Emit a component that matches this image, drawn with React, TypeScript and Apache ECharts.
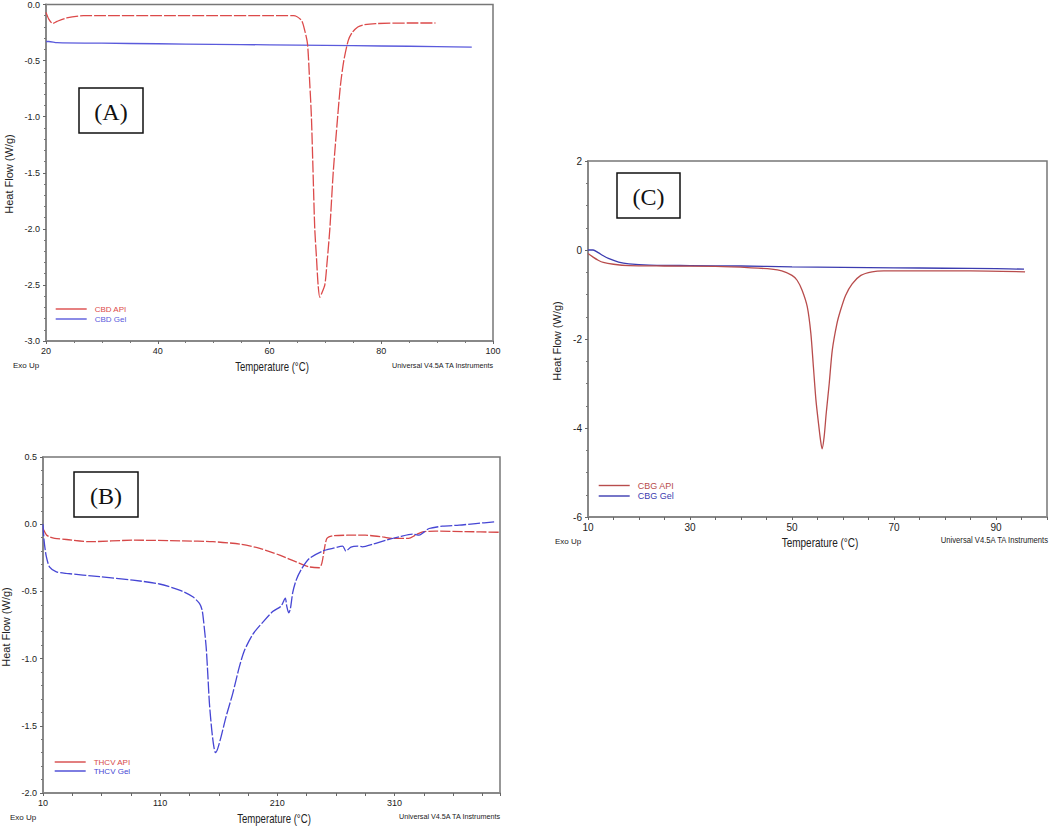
import React, { useEffect, useRef } from "react";
import * as echarts from "echarts";

// ---------- Panel A : CBD ----------
const cbdApiT = [20, 20.5, 21.2, 22, 23.7, 26.7, 30, 40, 50, 60, 64.3, 65.7, 66.3, 66.8, 67.2, 67.5, 67.8, 68.1, 68.4, 68.7, 69.0, 69.3, 69.9, 70.3, 70.8, 71.4, 72.2, 72.7, 73.3, 74.1, 74.8, 75.8, 77, 79, 85, 89.7];
const cbdApiHF = [-0.07, -0.13, -0.17, -0.15, -0.12, -0.1, -0.1, -0.1, -0.1, -0.1, -0.1, -0.14, -0.23, -0.35, -0.7, -1.0, -1.5, -2.0, -2.25, -2.5, -2.61, -2.58, -2.5, -2.3, -2.0, -1.5, -1.0, -0.72, -0.5, -0.32, -0.25, -0.2, -0.18, -0.17, -0.165, -0.165];
const cbdGelT = [20, 20.5, 22, 30, 40, 50, 60, 70, 80, 90, 96.2];
const cbdGelHF = [-0.33, -0.33, -0.34, -0.345, -0.35, -0.355, -0.36, -0.365, -0.37, -0.375, -0.38];

// ---------- Panel B : THCV ----------
const thcvApiT = [10, 11, 13, 15.7, 20, 30, 50, 87, 129, 155, 178, 195, 212, 226, 237, 245.8, 248, 250, 252, 254, 258, 270, 285, 300, 308, 322, 328, 334, 345, 370, 399];
const thcvApiHF = [-0.03, -0.05, -0.08, -0.094, -0.105, -0.114, -0.13, -0.119, -0.124, -0.13, -0.148, -0.18, -0.23, -0.28, -0.317, -0.324, -0.29, -0.19, -0.11, -0.094, -0.085, -0.082, -0.082, -0.095, -0.106, -0.106, -0.08, -0.057, -0.052, -0.055, -0.06];
const thcvGelT = [10, 10.9, 12.8, 15.7, 21.4, 29.9, 58.3, 86.7, 109.4, 126.5, 137.8, 143.5, 145.8, 146.9, 149.2, 150.6, 152, 154, 155.7, 157.2, 159.1, 162, 166.3, 171.9, 177.6, 181.9, 189, 197.5, 206, 213.1, 216.8, 218, 219.7, 221.1, 223.1, 225.9, 230.2, 237.3, 248.6, 257.2, 265.7, 268.5, 272.8, 278.5, 282.7, 291.3, 302.6, 314, 325.3, 331, 335.3, 339.5, 350.9, 365.1, 379.3, 395];
const thcvGelHF = [0, -0.12, -0.24, -0.32, -0.354, -0.366, -0.39, -0.416, -0.445, -0.49, -0.54, -0.59, -0.64, -0.71, -0.91, -1.11, -1.33, -1.53, -1.65, -1.7, -1.67, -1.58, -1.43, -1.26, -1.06, -0.94, -0.82, -0.73, -0.65, -0.61, -0.55, -0.61, -0.66, -0.63, -0.51, -0.42, -0.34, -0.255, -0.2, -0.18, -0.163, -0.2, -0.17, -0.163, -0.168, -0.149, -0.119, -0.094, -0.074, -0.082, -0.057, -0.032, -0.015, -0.007, 0.005, 0.017];

// ---------- Panel C : CBG ----------
const cbgApiT = [10, 11, 12, 13, 15, 18, 25, 35, 42, 46, 48, 50, 51, 52, 53, 53.7, 54.2, 54.7, 55.2, 55.6, 55.9, 56.3, 56.7, 57.3, 57.9, 58.8, 59.5, 60.5, 61.8, 63.5, 65.7, 68, 75, 85, 95.7];
const cbgApiHF = [-0.08, -0.16, -0.23, -0.28, -0.32, -0.35, -0.36, -0.37, -0.4, -0.43, -0.47, -0.57, -0.68, -0.91, -1.28, -1.88, -2.63, -3.38, -3.9, -4.28, -4.47, -4.2, -3.68, -3.0, -2.25, -1.66, -1.36, -1.02, -0.76, -0.57, -0.49, -0.47, -0.47, -0.47, -0.49];
const cbgGelT = [10, 11, 12, 13, 14, 16, 18, 22, 30, 40, 50, 60, 70, 80, 90, 95.5];
const cbgGelHF = [0, 0, -0.06, -0.13, -0.19, -0.27, -0.31, -0.34, -0.35, -0.36, -0.38, -0.39, -0.4, -0.41, -0.42, -0.43];

const panelLabels = ["(A)", "(B)", "(C)"];
const xTitle = "Temperature (°C)";
const yTitle = "Heat Flow (W/g)";
const exoText = "Exo Up";
const instrText = "Universal V4.5A TA Instruments";

const FONT = "'Liberation Sans', Arial, sans-serif";
const SERIF = "'Liberation Serif', 'Times New Roman', serif";

const RED_A = "#dc4a4a";
const BLUE_A = "#5a5adc";
const RED_B = "#d64848";
const BLUE_B = "#4646d4";
const RED_C = "#b84c4c";
const BLUE_C = "#3c3cb0";

const pairs = (t: number[], v: number[]) => t.map((x, i) => [x, v[i]]);

function App() {
  const ref = useRef<HTMLDivElement>(null);
  useEffect(() => {
    if (!ref.current) return;
    const chart = echarts.init(ref.current, null, { renderer: "svg" });

    const axisLine = { show: true, onZero: false, lineStyle: { color: "#888", width: 2 } };
    const axisTick = { show: true, length: 3, lineStyle: { color: "#666", width: 1 } };
    const minorTickBase = { show: true, length: 2, lineStyle: { color: "#777", width: 1 } };
    const lbl = { fontSize: 9, color: "#222", fontFamily: FONT };

    const xAxes: any[] = [
      {
        gridIndex: 0, type: "value", min: 20, max: 100, interval: 20,
        axisLine, axisTick, minorTick: { ...minorTickBase, splitNumber: 4 },
        splitLine: { show: false },
        axisLabel: { ...lbl, margin: 5 },
      },
      {
        gridIndex: 1, type: "value", min: 10, max: 400, interval: 25,
        axisLine, axisTick, splitLine: { show: false },
        axisLabel: {
          ...lbl, margin: 5,
          formatter: (v: number) => ((v - 10) % 100 === 0 && v < 400 ? String(v) : ""),
        },
      },
      {
        gridIndex: 2, type: "value", min: 10, max: 100, interval: 5,
        axisLine, axisTick, splitLine: { show: false },
        axisLabel: {
          ...lbl, fontSize: 10, margin: 5,
          formatter: (v: number) => ((v - 10) % 20 === 0 && v < 100 ? String(v) : ""),
        },
      },
    ];
    const yAxes: any[] = [
      {
        gridIndex: 0, type: "value", min: -3, max: 0, interval: 0.5,
        axisLine, axisTick, minorTick: { ...minorTickBase, splitNumber: 5 },
        splitLine: { show: false },
        axisLabel: { ...lbl, margin: 6, formatter: (v: number) => v.toFixed(1) },
      },
      {
        gridIndex: 1, type: "value", min: -2, max: 0.5, interval: 0.5,
        axisLine, axisTick, minorTick: { ...minorTickBase, splitNumber: 5 },
        splitLine: { show: false },
        axisLabel: { ...lbl, margin: 6, formatter: (v: number) => v.toFixed(1) },
      },
      {
        gridIndex: 2, type: "value", min: -6, max: 2, interval: 2,
        axisLine, axisTick, minorTick: { ...minorTickBase, splitNumber: 4 },
        splitLine: { show: false },
        axisLabel: { ...lbl, fontSize: 10, margin: 6 },
      },
    ];

    const mkSeries = (name: string, idx: number, data: number[][], color: string, type: any, width = 1.3) => ({
      name, type: "line", xAxisIndex: idx, yAxisIndex: idx, data,
      symbol: "none", showSymbol: false, smooth: 0.25,
      lineStyle: { color, width, type },
      itemStyle: { color },
    });

    const series = [
      mkSeries("CBD Gel", 0, pairs(cbdGelT, cbdGelHF), BLUE_A, "solid"),
      mkSeries("CBD API", 0, pairs(cbdApiT, cbdApiHF), RED_A, [12, 2]),
      mkSeries("THCV API", 1, pairs(thcvApiT, thcvApiHF), RED_B, [10, 2]),
      mkSeries("THCV Gel", 1, pairs(thcvGelT, thcvGelHF), BLUE_B, [12, 2]),
      mkSeries("CBG Gel", 2, pairs(cbgGelT, cbgGelHF), BLUE_C, "solid"),
      mkSeries("CBG API", 2, pairs(cbgApiT, cbgApiHF), RED_C, "solid"),
    ];

    const mkLegend = (left: number, top: number, names: string[], colors: string[], fs: number, gap: number) => ({
      orient: "vertical", left, top, padding: 0, itemWidth: 31, itemHeight: 8, itemGap: gap,
      data: names.map((n, i) => ({ name: n, textStyle: { color: colors[i] } })),
      textStyle: { fontSize: fs, fontFamily: FONT, padding: [0, 0, 0, 3] },
      itemStyle: { opacity: 0 },
      lineStyle: { type: "solid", width: 1.4 },
      selectedMode: false,
    });

    const txt = (text: string, x: number, y: number, fs: number, align: string, extra: any = {}) => ({
      type: "text", x, y, ...extra,
      style: { text, fontSize: fs, fontFamily: FONT, fill: "#222", textAlign: align, textVerticalAlign: "middle" },
    });

    const box = (label: string, x: number, y: number, w: number, h: number) => ({
      type: "group",
      children: [
        { type: "rect", shape: { x, y, width: w, height: h }, style: { fill: "#fff", stroke: "#111", lineWidth: 1.5 } },
        {
          type: "text", x: x + w / 2, y: y + h / 2 + 1,
          style: { text: label, fontSize: 24, fontFamily: SERIF, fill: "#111", textAlign: "center", textVerticalAlign: "middle" },
        },
      ],
    });

    const graphic: any[] = [
      // Panel A
      txt(exoText, 13, 365, 8, "left"),
      txt(xTitle, 272, 367, 12, "center", { scaleX: 0.8 }),
      txt(instrText, 493, 365, 8, "right", { scaleX: 0.9 }),
      txt(yTitle, 9, 174, 11, "center", { rotation: Math.PI / 2 }),
      box(panelLabels[0], 79, 88, 64, 45),
      // Panel B
      txt(exoText, 10, 817, 8, "left"),
      txt(xTitle, 274, 819, 12, "center", { scaleX: 0.8 }),
      txt(instrText, 500, 816, 8, "right", { scaleX: 0.9 }),
      txt(yTitle, 6, 627, 11, "center", { rotation: Math.PI / 2 }),
      box(panelLabels[1], 74, 472, 64, 45),
      // Panel C
      txt(exoText, 555, 541, 8, "left"),
      txt(xTitle, 820, 543, 12.5, "center", { scaleX: 0.8 }),
      txt(instrText, 1048, 540, 8.5, "right", { scaleX: 0.9 }),
      txt(yTitle, 557, 341, 11, "center", { rotation: Math.PI / 2 }),
      box(panelLabels[2], 617, 173, 63, 45),
    ];

    chart.setOption({
      animation: false,
      backgroundColor: "#fff",
      grid: [
        { left: 46, top: 4, width: 447, height: 337, show: true, borderColor: "#777", borderWidth: 1.5, backgroundColor: "transparent" },
        { left: 43, top: 457, width: 457, height: 336, show: true, borderColor: "#777", borderWidth: 1.5, backgroundColor: "transparent" },
        { left: 588, top: 161, width: 460, height: 356, show: true, borderColor: "#777", borderWidth: 1.5, backgroundColor: "transparent" },
      ],
      xAxis: xAxes,
      yAxis: yAxes,
      legend: [
        mkLegend(55, 305, ["CBD API", "CBD Gel"], [RED_A, BLUE_A], 8, 2),
        mkLegend(54, 758, ["THCV API", "THCV Gel"], [RED_B, BLUE_B], 8, 1),
        mkLegend(598, 481, ["CBG API", "CBG Gel"], [RED_C, BLUE_C], 9, 1.5),
      ],
      series,
      graphic,
    });
    return () => chart.dispose();
  }, []);
  return <div ref={ref} style={{ position: "absolute", left: 0, top: 0, width: 1050, height: 826 }} />;
}

export default App;
